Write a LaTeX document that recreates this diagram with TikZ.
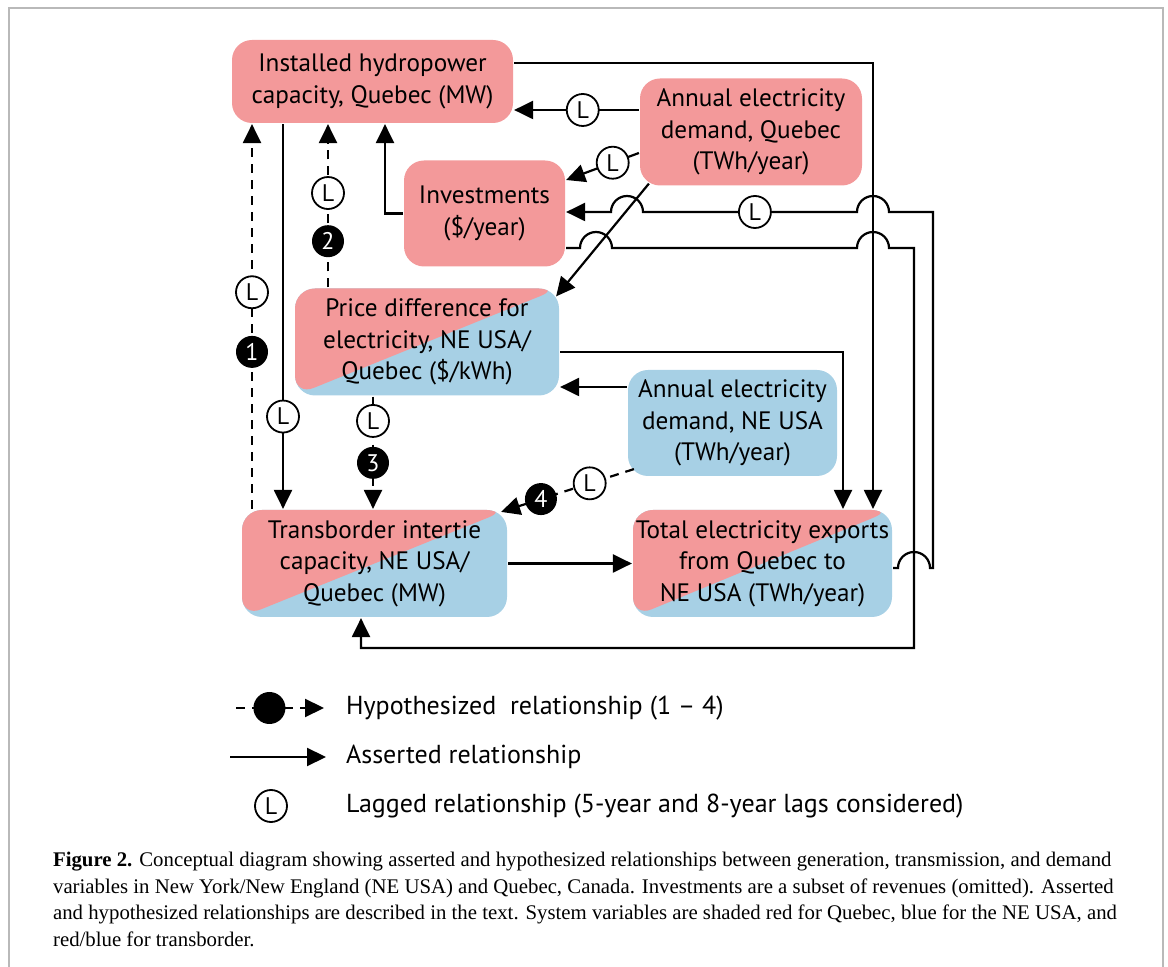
\documentclass[tikz,border=0pt]{standalone}
\usepackage{fontspec}
\setmainfont{PT Sans}
\newfontfamily\capfont{Liberation Serif}
\usetikzlibrary{arrows.meta}
\definecolor{qred}{RGB}{243,153,154}
\definecolor{qblue}{RGB}{167,208,229}
\begin{document}
\begin{tikzpicture}[x=0.5pt,y=-0.5pt,line width=1.1pt,
  >={Triangle[length=9.5pt,width=9pt]},
  box/.style={rounded corners=10pt,align=center,inner sep=0pt,font=\fontsize{12.6}{15.8}\selectfont},
  qbox/.style={box,fill=qred},
  ubox/.style={box,fill=qblue},
  splitbox/.style={box,fill=qblue,path picture={\fill[qred] (path picture bounding box.north west) -- (path picture bounding box.north east) -- (path picture bounding box.south west) -- cycle;}},
  asserted/.style={draw,->},
  hyp/.style={draw,->,dash pattern=on 4.5pt off 3.5pt},
  lag/.style={circle,draw,fill=white,solid,line width=0.9pt,inner sep=0pt,minimum size=16pt,font=\fontsize{12}{12}\selectfont},
  num/.style={circle,fill=black,text=white,inner sep=0pt,minimum size=16pt,font=\fontsize{12}{12}\selectfont},
  legtext/.style={anchor=west,inner sep=0pt,font=\fontsize{13}{15}\selectfont}]
\useasboundingbox (0,0) rectangle (1168,967);
\draw[gray!55,line width=1pt] (9,967) -- (9,8) -- (1163,8) -- (1163,967);

\node[qbox,minimum width=140.5pt,minimum height=41.5pt] (HC) at (372.5,81.5) {Installed hydropower\\capacity, Quebec (MW)};
\node[qbox,minimum width=111pt,minimum height=53.5pt] (DQ) at (751,132) {Annual electricity\\demand, Quebec\\(TWh/year)};
\node[qbox,minimum width=80.5pt,minimum height=53pt] (INV) at (484.5,213.5) {Investments\\(\$/year)};
\node[splitbox,minimum width=132pt,minimum height=53.5pt] (PD) at (427,342) {Price difference for\\electricity, NE USA/\\Quebec (\$/kWh)};
\node[ubox,minimum width=104.5pt,minimum height=53pt] (DU) at (732.5,423) {Annual electricity\\demand, NE USA\\(TWh/year)};
\node[splitbox,minimum width=132.5pt,minimum height=53.5pt] (TI) at (374.5,563.5) {Transborder intertie\\capacity, NE USA/\\Quebec (MW)};
\node[splitbox,minimum width=129.5pt,minimum height=53.5pt] (EX) at (762.5,563.5) {Total electricity exports\\from Quebec to\\NE USA (TWh/year)};

\draw[asserted] (HC.east |- 0,63) -| (EX.north -| 873,0);
\draw[asserted] (DQ.west |- 0,110) -- node[lag,pos=0.45] (L1) {L} (HC.east |- 0,110);
\draw[asserted] (DQ.west |- 0,153) -- node[lag,pos=0.36] (L2) {L} (INV.east |- 0,180);
\draw[asserted] ([shift={(5pt,1.5pt)}]DQ.south west) -- ([shift={(-2pt,-4.5pt)}]PD.north east);
\draw[asserted] (INV.west) -| (HC.south -| 385,0);
\draw[asserted] (EX.east |- 0,568) -- (898,568) arc[start angle=180,end angle=360,radius=16] -- (933,568) -- (933,212) -- (889,212) arc[start angle=0,end angle=-180,radius=16] -- node[lag,pos=0.477] (L3) {L} (643,212) arc[start angle=0,end angle=-180,radius=16] -- (INV.east |- 0,212);
\draw[asserted] (INV.east |- 0,248) -- (580,248) arc[start angle=180,end angle=360,radius=16] -- (857,248) arc[start angle=180,end angle=360,radius=16] -- (914,248) -- (914,648) -| (TI.south -| 361,0);
\draw[asserted] (HC.south -| 283,0) -- node[lag,pos=0.76] (L4) {L} (TI.north -| 283,0);
\draw[asserted] (DU.west |- 0,387) -- (PD.east |- 0,387);
\draw[asserted] (PD.east |- 0,352) -| (EX.north -| 843,0);
\draw[asserted] (TI.east) -- (EX.west);

\draw[hyp] (TI.north -| 252,0) -- node[num,pos=0.408] (N1) {1} node[lag,pos=0.563] (L5) {L} (HC.south -| 252,0);
\draw[hyp] (PD.north -| 328,0) -- node[num,pos=0.283] (N2) {2} node[lag,pos=0.578] (L6) {L} (HC.south -| 328,0);
\draw[hyp] (PD.south -| 373,0) -- node[lag,pos=0.217] (L7) {L} node[num,pos=0.59] (N3) {3} (TI.north -| 373,0);
\draw[hyp] ([shift={(3.5pt,4pt)}]DU.south west) -- node[lag,pos=0.333] (L8) {L} node[num,pos=0.7] (N4) {4} ([shift={(-3.5pt,-1.5pt)}]TI.north east);

\draw[hyp] (236,708) -- node[num,pos=0.38] (D0) {} (324,708);
\coordinate (A0) at (230,757);
\coordinate (A1) at (326,757);
\draw[asserted] (A0) -- (A1);
\node[lag] (L0) at (271,806) {L};
\node[legtext] (T1) at (345,708) {Hypothesized\ \ relationship (1 – 4)};
\node[legtext] (T2) at (345,757) {Asserted relationship};
\node[legtext] (T3) at (345,806) {Lagged relationship (5-year and 8-year lags considered)};

\node[anchor=north west,align=left,inner sep=0pt,font=\capfont\fontsize{10.4}{13.3}\selectfont] (CAP) at (52,851) {\textbf{Figure 2.} Conceptual diagram showing asserted and hypothesized relationships between generation, transmission, and demand\\variables in New York/New England (NE USA) and Quebec, Canada. Investments are a subset of revenues (omitted). Asserted\\and hypothesized relationships are described in the text. System variables are shaded red for Quebec, blue for the NE USA, and\\red/blue for transborder.};
\end{tikzpicture}
\end{document}
